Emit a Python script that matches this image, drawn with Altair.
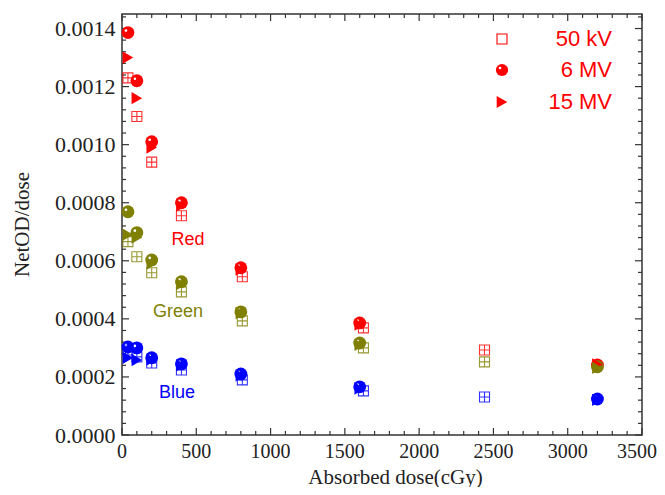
import altair as alt
import pandas as pd

# ---------------- data ----------------
doses_50kv = [40, 100, 200, 400, 810, 1625, 2440]
doses_mv = [40, 100, 200, 400, 800, 1600, 3200]

red_50kv = [0.00123, 0.001097, 0.00094, 0.000755, 0.000545, 0.000369, 0.000293]
red_6mv = [0.001386, 0.00122, 0.00101, 0.0008, 0.000576, 0.000386, 0.000241]
red_15mv = [0.0013, 0.00116, 0.00099, 0.00079, 0.00057, 0.00038, 0.000243]

green_50kv = [0.000666, 0.000614, 0.000559, 0.000493, 0.000393, 0.0003, 0.000252]
green_6mv = [0.000769, 0.000697, 0.000603, 0.000528, 0.000424, 0.000317, 0.000235]
green_15mv = [0.00069, 0.00068, 0.00059, 0.00052, 0.00042, 0.00031, 0.000231]

blue_50kv = [0.000293, 0.000269, 0.000248, 0.000224, 0.00019, 0.000152, 0.000131]
blue_6mv = [0.000303, 0.0003, 0.000266, 0.000245, 0.00021, 0.000166, 0.000124]
blue_15mv = [0.000266, 0.000258, 0.00026, 0.00024, 0.000205, 0.00016, 0.000121]

channels = ["Red", "Green", "Blue"]
channel_colors = ["#ff0000", "#808000", "#0000ff"]
legend_labels = ["50 kV", "6 MV", "15 MV"]

x_major = [0, 500, 1000, 1500, 2000, 2500, 3000, 3500]
y_major = [0.0, 0.0002, 0.0004, 0.0006, 0.0008, 0.0010, 0.0012, 0.0014]

# ---------------- build tables ----------------
def table(doses, series):
    rows = []
    for ch, vals in zip(channels, series):
        for d, v in zip(doses, vals):
            rows.append({"dose": d, "value": v, "channel": ch})
    return pd.DataFrame(rows)

df_50kv = table(doses_50kv, [red_50kv, green_50kv, blue_50kv])
df_6mv = table(doses_mv, [red_6mv, green_6mv, blue_6mv])
df_15mv = table(doses_mv, [red_15mv, green_15mv, blue_15mv])

W, H = 520, 421
XD = [0, 3500]
YD = [0, 0.00145]

xs = alt.Scale(domain=XD, nice=False, zero=False)
ys = alt.Scale(domain=YD, nice=False, zero=False)
cs = alt.Scale(domain=channels, range=channel_colors)

x_enc = alt.X("dose:Q", scale=xs, title="Absorbed dose(cGy)",
              axis=alt.Axis(values=x_major, labels=False, titleX=273, titleY=48,
                            titleBaseline="alphabetic"))
y_enc = alt.Y("value:Q", scale=ys, title="NetOD/dose",
              axis=alt.Axis(values=y_major, format=".4f", titleX=-100, titleY=210,
                            titleAngle=-90, titleBaseline="middle", titleAlign="center",
                            labelFlush=False, labelFontSize=22))
c_enc = alt.Color("channel:N", scale=cs, legend=None)

# ---------------- x tick labels ----------------
lab_font = "Liberation Serif"
lab_size = 20
xl_df = pd.DataFrame({"t": x_major[:-1], "s": [str(v) for v in x_major[:-1]]})
xl_last = pd.DataFrame({"t": x_major[-1:], "s": [str(v) for v in x_major[-1:]]})
xlabels = alt.Chart(xl_df).mark_text(font=lab_font, fontSize=lab_size, color="#222222",
                                     align="center", baseline="top").encode(
    x=alt.X("t:Q", scale=xs), y=alt.value(H + 7), text="s:N")
xlabel_last = alt.Chart(xl_last).mark_text(font=lab_font, fontSize=lab_size, color="#222222",
                                           align="right", baseline="top", dx=15).encode(
    x=alt.X("t:Q", scale=xs), y=alt.value(H + 7), text="s:N")

# ---------------- ticks (inward, mirrored) ----------------
x_minor = [v for v in range(0, 3501, 100) if v % 500 != 0]
y_minor = [round(i * 0.00004, 6) for i in range(0, 37) if i % 5 != 0]

tx_major = pd.DataFrame({"t": x_major})
tx_minor = pd.DataFrame({"t": x_minor})
ty_major = pd.DataFrame({"t": y_major})
ty_minor = pd.DataFrame({"t": y_minor})

tick_color = "#333333"

def xticks(df, L):
    b = alt.Chart(df).mark_rule(color=tick_color, strokeWidth=1.2).encode(
        x=alt.X("t:Q", scale=xs), y=alt.value(H), y2=alt.value(H - L))
    t = alt.Chart(df).mark_rule(color=tick_color, strokeWidth=1.2).encode(
        x=alt.X("t:Q", scale=xs), y=alt.value(0), y2=alt.value(L))
    return [b, t]

def yticks(df, L):
    l = alt.Chart(df).mark_rule(color=tick_color, strokeWidth=1.2).encode(
        y=alt.Y("t:Q", scale=ys), x=alt.value(0), x2=alt.value(L))
    r = alt.Chart(df).mark_rule(color=tick_color, strokeWidth=1.2).encode(
        y=alt.Y("t:Q", scale=ys), x=alt.value(W), x2=alt.value(W - L))
    return [l, r]

ticks = xticks(tx_major, 7) + xticks(tx_minor, 4) + yticks(ty_major, 7) + yticks(ty_minor, 4)

# ---------------- data marks ----------------
circles = alt.Chart(df_6mv).mark_point(shape="circle", filled=True, size=165, opacity=1).encode(
    x=x_enc, y=y_enc, color=c_enc)
highlight = alt.Chart(df_6mv).mark_point(shape="circle", filled=True, size=7, color="white",
                                         opacity=1, xOffset=-2, yOffset=-2).encode(
    x=alt.X("dose:Q", scale=xs), y=alt.Y("value:Q", scale=ys))
triangles = alt.Chart(df_15mv).mark_point(shape="triangle-right", filled=True, size=150, opacity=1).encode(
    x=alt.X("dose:Q", scale=xs), y=alt.Y("value:Q", scale=ys), color=c_enc)
square_path = "M-1,-1H1V1H-1Z M-1,0H1 M0,-1V1"
squares = alt.Chart(df_50kv).mark_point(shape=square_path, filled=False, size=100,
                                        strokeWidth=1.1, opacity=0.8).encode(
    x=alt.X("dose:Q", scale=xs), y=alt.Y("value:Q", scale=ys), color=c_enc)

# ---------------- channel labels ----------------
label_pos = [(66, 226), (56, 298), (55, 379)]
labels = []
for ch, col, (px, py) in zip(channels, channel_colors, label_pos):
    labels.append(alt.Chart(pd.DataFrame({"t": [ch]})).mark_text(
        font="Liberation Sans", fontSize=18, color=col, align="center", baseline="middle").encode(
        text="t:N", x=alt.value(px), y=alt.value(py)))

# ---------------- legend ----------------
leg_shapes = ["M-1,-1H1V1H-1Z", "circle", "triangle-right"]
leg_filled = [False, True, True]
leg_sizes = [100, 150, 150]
leg_y = [25, 56, 88]
legend = []
for lab, shp, fil, sz, ly in zip(legend_labels, leg_shapes, leg_filled, leg_sizes, leg_y):
    d = pd.DataFrame({"t": [lab]})
    legend.append(alt.Chart(d).mark_point(shape=shp, filled=fil, size=sz, color="#ff0000",
                                          opacity=1, strokeWidth=1.1).encode(
        x=alt.value(380), y=alt.value(ly)))
    legend.append(alt.Chart(d).mark_text(font="Liberation Sans", fontSize=22, color="#ff0000",
                                         align="right", baseline="middle").encode(
        text="t:N", x=alt.value(490), y=alt.value(ly)))
legend.append(alt.Chart(pd.DataFrame({"t": [0]})).mark_point(
    shape="circle", filled=True, size=7, color="white", opacity=1, xOffset=-2, yOffset=-2).encode(
    x=alt.value(380), y=alt.value(56)))

chart = alt.layer(*ticks, circles, highlight, triangles, squares, xlabels, xlabel_last,
                  *labels, *legend).properties(
    width=W, height=H,
    autosize=alt.AutoSizeParams(type="none"),
    padding={"left": 114, "top": 6, "right": 15, "bottom": 52},
).configure_view(
    stroke="#333333", strokeWidth=1.5
).configure_axis(
    domain=False, ticks=False, grid=False,
    labelFont=lab_font, labelFontSize=lab_size, labelColor="#222222",
    labelPadding=7,
    titleFont="Liberation Serif", titleFontSize=21, titleColor="#222222", titleFontWeight="normal",
)

chart.save("out.html", embed_options={"renderer": "svg", "actions": False})
